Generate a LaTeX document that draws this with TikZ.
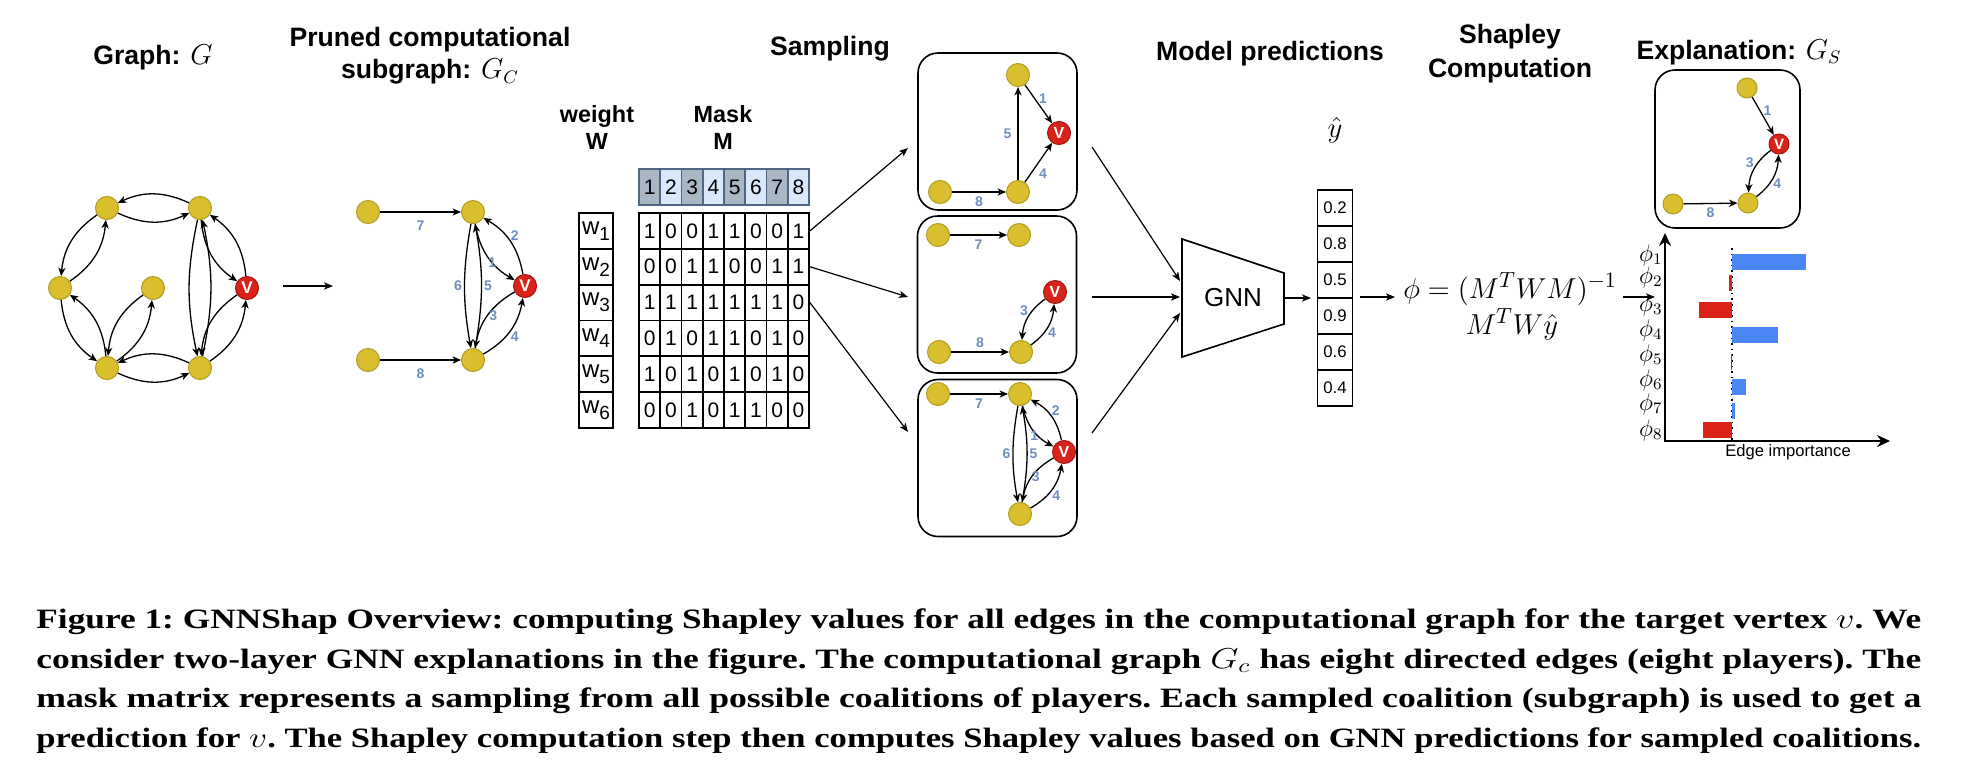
\documentclass[tikz,border=0pt]{standalone}
\usepackage{fontspec}
\setsansfont{Liberation Sans}
\newfontfamily\capfont{Liberation Serif Bold}
\usetikzlibrary{arrows.meta}
\definecolor{nodeyellow}{HTML}{D9BE2D}
\definecolor{nodeedge}{HTML}{B39B1F}
\definecolor{nodered}{HTML}{D8231B}
\definecolor{nodereddark}{HTML}{A3160F}
\definecolor{lblblue}{HTML}{6C8EBF}
\definecolor{hdark}{HTML}{A9B6C4}
\definecolor{hlight}{HTML}{DAE8FC}
\definecolor{hedge}{HTML}{4F6784}
\definecolor{barblue}{HTML}{4A86F5}
\definecolor{barred}{HTML}{DA2316}
% caption lines are stretched to the full width
\newsavebox\capbox
\newcommand\capfit[1]{\sbox\capbox{#1}\pgfmathsetmacro\capratio{942.5/\the\wd\capbox}\scalebox{\capratio}[1]{\usebox\capbox}}
\begin{document}
\begin{tikzpicture}[x=0.5pt,y=-0.5pt,font=\sffamily,
  main_node/.style={circle,fill=nodeyellow,draw=nodeedge,line width=0.5pt,minimum size=11.5pt,inner sep=0pt},
  v_node/.style={main_node,fill=nodered,draw=nodereddark,text=white,font=\sffamily\bfseries\fontsize{8.5}{8.5}\selectfont},
  arr/.style={-{Stealth[length=4.2pt,width=3.6pt,inset=1.2pt]},line width=0.65pt},
  flow/.style={-{Stealth[length=4.5pt,width=3.6pt,inset=1.2pt]},line width=0.6pt},
  lbl/.style={text=lblblue,font=\sffamily\bfseries\fontsize{7}{7}\selectfont,inner sep=1pt},
  stage_title/.style={font=\sffamily\bfseries\fontsize{13.3}{16}\selectfont,align=center,inner sep=0pt},
  mcell/.style={draw,line width=0.9pt,minimum width=10.625pt,minimum height=17.92pt,inner sep=0pt,font=\sffamily\fontsize{10.5}{10.5}\selectfont},
  hcell/.style={mcell,draw=hedge},
  wcell/.style={mcell,minimum width=17pt,font=\sffamily\fontsize{12}{12}\selectfont},
  ycell/.style={mcell,minimum width=17.5pt,minimum height=18pt,font=\sffamily\fontsize{8.4}{8.4}\selectfont},
  sample_box/.style={draw,line width=0.8pt,rounded corners=10pt,minimum width=79.5pt,minimum height=78.5pt},
  chart_axis/.style={{Stealth[length=6.5pt,width=6pt]}-{Stealth[length=6.5pt,width=6pt]},line width=1pt},
  cap_line/.style={font=\capfont\frenchspacing\fontsize{14}{16}\selectfont,inner sep=0pt,anchor=base west}]
\useasboundingbox (0,0) rectangle (1968,782);

% titles
\node[stage_title] (t1) at (153,57) {Graph: $G$};
\node[stage_title] (t2) at (430,56) {Pruned computational\\subgraph: $G_C$};
\node[stage_title,font=\sffamily\bfseries\fontsize{11.7}{13.5}\selectfont] (t3) at (597,128) {weight\\W};
\node[stage_title,font=\sffamily\bfseries\fontsize{11.7}{13.5}\selectfont] (t4) at (723,128) {Mask\\M};
\node[stage_title] (t5) at (830,49) {Sampling};
\node[stage_title] (t6) at (1270,54) {Model predictions};
\node[stage_title,font=\sffamily\bfseries\fontsize{13.3}{17}\selectfont] (t7) at (1510,54) {Shapley\\Computation};
\node[stage_title] (t8) at (1739,52) {Explanation: $G_S$};

% graph G
\node[main_node] (g1) at (107,208) {};
\node[main_node] (g2) at (200,208) {};
\node[main_node] (g3) at (60,288) {};
\node[main_node] (g4) at (153,288) {};
\node[v_node] (gv) at (247,288) {V};
\node[main_node] (g5) at (107,368) {};
\node[main_node] (g6) at (200,368) {};
\foreach \a/\b/\k in {g1/g2/25,g1/g3/25,g3/g5/25,g5/g4/25,g5/g6/25,g2/g6/12,g2/gv/25,g6/gv/25}
  {\draw[arr] (\a) to[bend right=\k] (\b);
   \draw[arr] (\b) to[bend right=\k] (\a);}

\coordinate (g_out) at (283,286);
\coordinate (c_in) at (333,286);
\draw[flow] (g_out) -- (c_in);

% pruned computational graph
\node[main_node] (c1) at (368,212) {};
\node[main_node] (c2) at (473,212) {};
\node[v_node] (cv) at (525,286) {V};
\node[main_node] (c3) at (368,360) {};
\node[main_node] (c4) at (473,360) {};
\draw[arr] (c1) -- node[lbl,below=3pt]{7} (c2);
\draw[arr] (c3) -- node[lbl,below=3pt]{8} (c4);
\draw[arr] (c2) to[bend right=10] node[lbl,left]{6} (c4);
\draw[arr] (c4) to[bend right=10] node[lbl,right]{5} (c2);
\draw[arr] (c2) to[bend right=25] node[lbl,below left=-1pt,xshift=4.5pt]{1} (cv);
\draw[arr] (cv) to[bend right=25] node[lbl,above right=-1pt]{2} (c2);
\draw[arr] (cv) to[bend right=25] node[lbl,above left=-1pt,xshift=5pt,yshift=-3pt]{3} (c4);
\draw[arr] (c4) to[bend right=25] node[lbl,below right=-1pt]{4} (cv);

% weight and mask
\foreach \c/\col in {1/hdark,2/hlight,3/hdark,4/hlight,5/hdark,6/hlight,7/hdark,8/hlight}
  \node[hcell,fill=\col] (h\c) at ({628.375+21.25*\c},187) {\c};
\foreach \row [count=\r] in {{1,0,0,1,1,0,0,1},{0,0,1,1,0,0,1,1},{1,1,1,1,1,1,1,0},{0,1,0,1,1,0,1,0},{1,0,1,0,1,0,1,0},{0,0,1,0,1,1,0,0}}
  {\node[wcell] (w\r) at (596,{195.08+35.83*\r}) {w\raisebox{-3pt}{\fontsize{9.5}{9.5}\selectfont\r}};
   \foreach \v [count=\c] in \row
     \node[mcell] (m\r-\c) at ({628.375+21.25*\c},{195.08+35.83*\r}) {\v};}

% sampled coalitions
\node[sample_box] (s1) at (997.5,131.5) {};
\node[sample_box] (s2) at (997,294.5) {};
\node[sample_box] (s3) at (997.5,458) {};
\coordinate (s1in) at (908,148);
\coordinate (s2in) at (908,297);
\coordinate (s3in) at (908,432);
\draw[flow] (m1-8.east) -- (s1in);
\draw[flow] (m2-8.east) -- (s2in);
\draw[flow] (m3-8.east) -- (s3in);

\node[main_node] (p1t) at (1018,75) {};
\node[v_node,font=\sffamily\bfseries\fontsize{8}{8}\selectfont] (p1v) at (1059,133) {V};
\node[main_node] (p1a) at (940,192) {};
\node[main_node] (p1b) at (1018,192) {};
\draw[arr] (p1a) -- node[lbl,below=1pt]{8} (p1b);
\draw[arr] (p1b) -- node[lbl,left=2pt]{5} (p1t);
\draw[arr] (p1t) -- node[lbl,above right=-1pt]{1} (p1v);
\draw[arr] (p1b) -- node[lbl,below right=-1pt,yshift=-3pt]{4} (p1v);

\node[main_node] (p2a) at (938,235) {};
\node[main_node] (p2b) at (1019,235) {};
\node[v_node,font=\sffamily\bfseries\fontsize{8}{8}\selectfont] (p2v) at (1055,292) {V};
\node[main_node] (p2c) at (939,352) {};
\node[main_node] (p2d) at (1021,352) {};
\draw[arr] (p2a) -- node[lbl,below=1pt]{7} (p2b);
\draw[arr] (p2c) -- node[lbl,above=1pt]{8} (p2d);
\draw[arr] (p2v) to[bend right=25] node[lbl,above left=-1pt]{3} (p2d);
\draw[arr] (p2d) to[bend right=25] node[lbl,below right=-1pt]{4} (p2v);

\node[main_node] (p3a) at (938,394) {};
\node[main_node] (p3b) at (1020,394) {};
\node[v_node,font=\sffamily\bfseries\fontsize{8}{8}\selectfont] (p3v) at (1064,452) {V};
\node[main_node] (p3c) at (1020,514) {};
\draw[arr] (p3a) -- node[lbl,below=1pt]{7} (p3b);
\draw[arr] (p3b) to[bend right=10] node[lbl,left]{6} (p3c);
\draw[arr] (p3c) to[bend right=10] node[lbl,right]{5} (p3b);
\draw[arr] (p3b) to[bend right=25] node[lbl,below left=-1pt,xshift=3pt]{1} (p3v);
\draw[arr] (p3v) to[bend right=25] node[lbl,above right=-1pt]{2} (p3b);
\draw[arr] (p3v) to[bend right=25] node[lbl,above left=-1pt,xshift=4pt,yshift=-3pt]{3} (p3c);
\draw[arr] (p3c) to[bend right=25] node[lbl,below right=-1pt]{4} (p3v);

% GNN
\draw[line width=0.8pt] (1182,239) -- (1284,273) -- (1284,324) -- (1182,357) -- cycle;
\node[font=\sffamily\fontsize{13}{13}\selectfont] (gnn) at (1233,298) {GNN};
\coordinate (s1out) at (1092,147);
\coordinate (s2out) at (1092,297);
\coordinate (s3out) at (1092,433);
\coordinate (gin1) at (1180,281);
\coordinate (gin2) at (1180,297);
\coordinate (gin3) at (1180,313);
\draw[flow] (s1out) -- (gin1);
\draw[flow] (s2out) -- (gin2);
\draw[flow] (s3out) -- (gin3);

% predictions
\node[font=\fontsize{14}{14}\selectfont] (yhat) at (1335,130) {$\hat{y}$};
\foreach \v [count=\i] in {0.2,0.8,0.5,0.9,0.6,0.4}
  \node[ycell] (y\i) at (1335,{172+36*\i}) {\v};
\coordinate (gout) at (1284,298);
\coordinate (yin) at (1311,298);
\draw[flow] (gout) -- (yin);

% Shapley computation
\coordinate (yout) at (1360,297);
\coordinate (fin) at (1395,297);
\draw[flow] (yout) -- (fin);
\node[anchor=base,inner sep=0pt,font=\fontsize{15.2}{15.2}\selectfont] (f1) at (1510,298) {$\phi=(M^TWM)^{-1}$};
\node[anchor=base,inner sep=0pt,text height=8pt,font=\fontsize{15.2}{15.2}\selectfont] (f2) at (1512,334) {$M^TW\hat{y}$};
\coordinate (fout) at (1623,297);
\coordinate (cin) at (1655,297);
\draw[flow] (fout) -- (cin);

% explanation
\node[sample_box,minimum width=72.5pt,minimum height=79pt] (ex) at (1727.5,149) {};
\node[main_node,minimum size=10pt] (e1) at (1747,88) {};
\node[v_node,minimum size=10pt,font=\sffamily\bfseries\fontsize{7.5}{7.5}\selectfont] (ev) at (1779,144) {V};
\node[main_node,minimum size=10pt] (e2) at (1673,204) {};
\node[main_node,minimum size=10pt] (e3) at (1748,203) {};
\draw[arr] (e1) -- node[lbl,above right=-1pt]{1} (ev);
\draw[arr] (ev) to[bend right=25] node[lbl,above left=-1pt]{3} (e3);
\draw[arr] (e3) to[bend right=25] node[lbl,below right=-1pt]{4} (ev);
\draw[arr] (e2) -- node[lbl,below=1pt]{8} (e3);

% edge importance chart
\coordinate (ytop) at (1665,233);
\coordinate (orig) at (1665,441);
\coordinate (xend) at (1890,441);
\draw[chart_axis] (ytop) -- (orig) -- (xend);
\draw[dotted,line width=0.8pt] (1732,248) -- (1732,441);
\foreach \x/\y/\col in {1806/254/barblue,1729/275/barred,1699/302/barred,1778/327/barblue,1730.5/354/barred,1746/379/barblue,1734.5/403/barblue,1703/422/barred}
  \fill[\col] (1732,\y) rectangle (\x,{\y+16});
\foreach \y [count=\i] in {258,280,308,333,358,383,407,433}
  \node[anchor=east,inner sep=0pt,text height=5.5pt,text depth=2.5pt,font=\fontsize{12}{12}\selectfont] (phi\i) at (1663,\y) {$\phi_{\i}$};
\node[font=\sffamily\fontsize{8.3}{8.3}\selectfont] (xlab) at (1788,452) {Edge importance};

% caption
\node[cap_line] (cap1) at (36,628) {\capfit{Figure 1: GNNShap Overview: computing Shapley values for all edges in the computational graph for the target vertex $v$. We}};
\node[cap_line] (cap2) at (36,668) {\capfit{consider two-layer GNN explanations in the figure. The computational graph $G_c$ has eight directed edges (eight players). The}};
\node[cap_line] (cap3) at (36,707) {\capfit{mask matrix represents a sampling from all possible coalitions of players. Each sampled coalition (subgraph) is used to get a}};
\node[cap_line] (cap4) at (36,747) {\capfit{prediction for $v$. The Shapley computation step then computes Shapley values based on GNN predictions for sampled coalitions.}};
\end{tikzpicture}
\end{document}
